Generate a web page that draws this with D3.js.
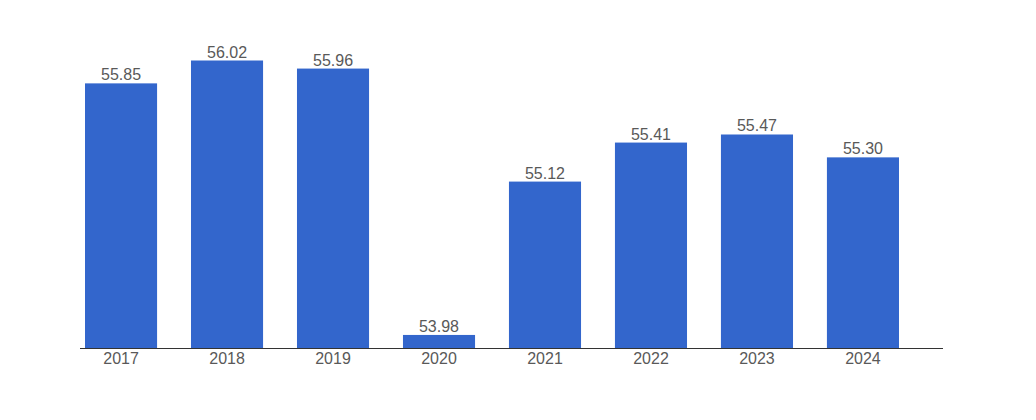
<!DOCTYPE html>
<html>
<head>
<meta charset="utf-8">
<script src="https://cdn.jsdelivr.net/npm/d3@7"></script>
<style>
  html, body { margin: 0; padding: 0; background: #fff; }
  svg { display: block; }
  text { font-family: "Liberation Sans", Arial, sans-serif; }
</style>
</head>
<body>
<svg id="chart" width="1036" height="420"></svg>
<script>
const years = ["2017", "2018", "2019", "2020", "2021", "2022", "2023", "2024"];
const values = [55.85, 56.02, 55.96, 53.98, 55.12, 55.41, 55.47, 55.30];
const valueLabels = ["55.85", "56.02", "55.96", "53.98", "55.12", "55.41", "55.47", "55.30"];

const svg = d3.select("#chart");
const baseY = 348;

const x = d3.scaleBand()
  .domain(years)
  .range([85, 899])
  .paddingInner(0.32)
  .paddingOuter(0);

const y = d3.scaleLinear()
  .domain([53.883, 56.02])
  .range([baseY, 60.5]);

svg.append("g")
  .selectAll("rect")
  .data(values)
  .join("rect")
  .attr("x", (d, i) => x(years[i]))
  .attr("y", d => y(d))
  .attr("width", x.bandwidth())
  .attr("height", d => baseY - y(d))
  .attr("fill", "#3366cc");

svg.append("g")
  .selectAll("text")
  .data(values)
  .join("text")
  .attr("x", (d, i) => x(years[i]) + x.bandwidth() / 2)
  .attr("y", d => y(d) - 3)
  .attr("text-anchor", "middle")
  .attr("font-size", 16)
  .attr("fill", "#595959")
  .text((d, i) => valueLabels[i]);

const axis = d3.axisBottom(x).tickSize(0).tickPadding(5);
const gx = svg.append("g")
  .attr("transform", `translate(0,${baseY})`)
  .call(axis);
gx.select(".domain").remove();
gx.selectAll("text")
  .attr("font-size", 16)
  .attr("font-family", "Liberation Sans, Arial, sans-serif")
  .attr("fill", "#595959");

svg.append("line")
  .attr("x1", 80).attr("x2", 943)
  .attr("y1", baseY + 0.5).attr("y2", baseY + 0.5)
  .attr("stroke", "#333")
  .attr("stroke-width", 1);
</script>
</body>
</html>
